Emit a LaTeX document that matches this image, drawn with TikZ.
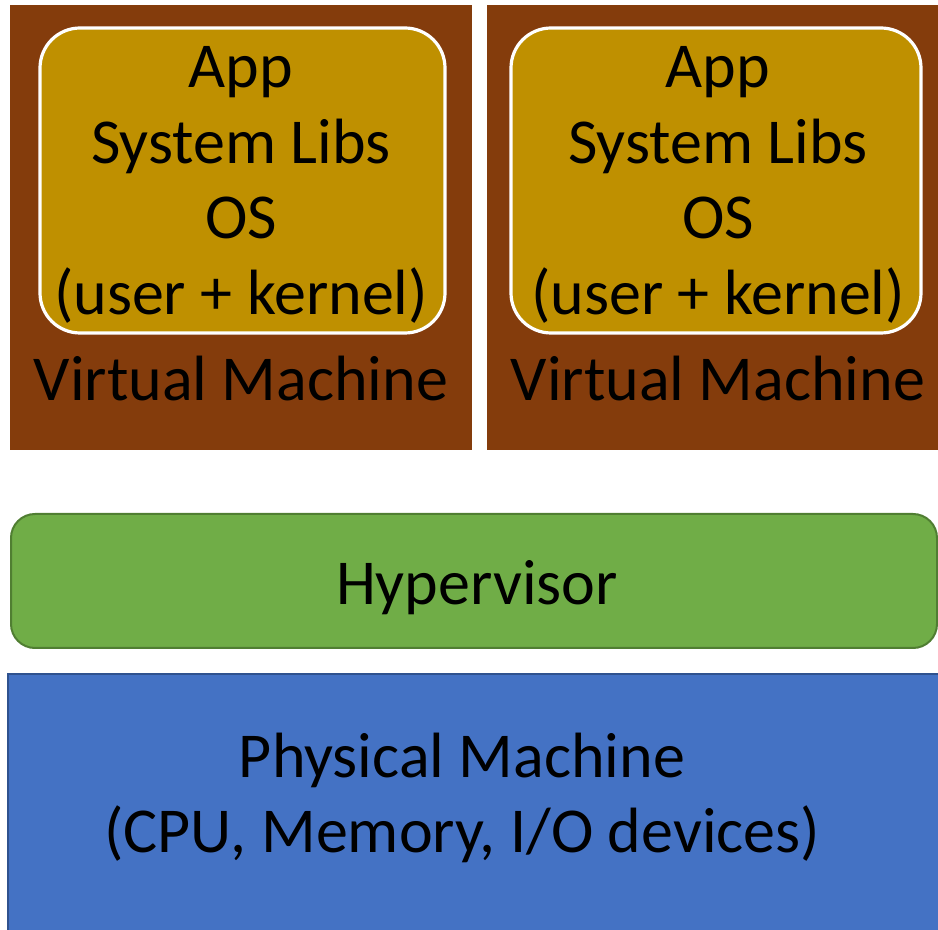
\documentclass[tikz,border=0pt]{standalone}
\usepackage{fontspec}
\setmainfont{Carlito}
\usetikzlibrary{calc}
\tikzset{
    vm/.style={fill=vmbrown,draw=none},
    guest/.style={fill=guestgold,draw=white,line width=1.6pt,rounded corners=20pt},
    hyper/.style={fill=hypergreen,draw=hyperborder,line width=1pt,rounded corners=12pt},
    phys/.style={fill=physblue,draw=physborder,line width=0.8pt},
    txt/.style={font=\fontsize{32}{37.9}\selectfont,align=center,inner sep=0pt,text=black},
  }
\definecolor{vmbrown}{HTML}{843C0C}
\definecolor{guestgold}{HTML}{BF9000}
\definecolor{hypergreen}{HTML}{70AD47}
\definecolor{hyperborder}{HTML}{507E32}
\definecolor{physblue}{HTML}{4472C4}
\definecolor{physborder}{HTML}{2F528F}
\begin{document}
\begin{tikzpicture}[x=0.5pt,y=-0.5pt]
				  %cadre
				  \useasboundingbox (0,0) rectangle (938,930);
				  \clip (0,0) rectangle (938,930);
				  %VM 1
				  \path[vm] (10,5) rectangle (472,450);
				  \draw[guest] (40,28) rectangle (445,333);
				  \node[txt] (apps1) at (241,185) {App\\System Libs\\OS\\(user + kernel)};
				  \node[txt] (vm1) at (241,379) {Virtual Machine};
				  %VM 2
				  \path[vm] (487,5) rectangle (948,450);
				  \draw[guest] (511,28) rectangle (921,333);
				  \node[txt] (apps2) at (718,185) {App\\System Libs\\OS\\(user + kernel)};
				  \node[txt] (vm2) at (718,379) {Virtual Machine};
				  %hyperviseur
				  \draw[hyper] (11,514) rectangle (937,648);
				  \node[txt] (hyp) at (477,588) {Hypervisor};
				  %machine physique
				  \draw[phys] (8,674) rectangle (960,960);
				  \node[txt] (pm) at (462,798) {Physical Machine\\(CPU, Memory, I/O devices)};
				  \end{tikzpicture}
\end{document}
